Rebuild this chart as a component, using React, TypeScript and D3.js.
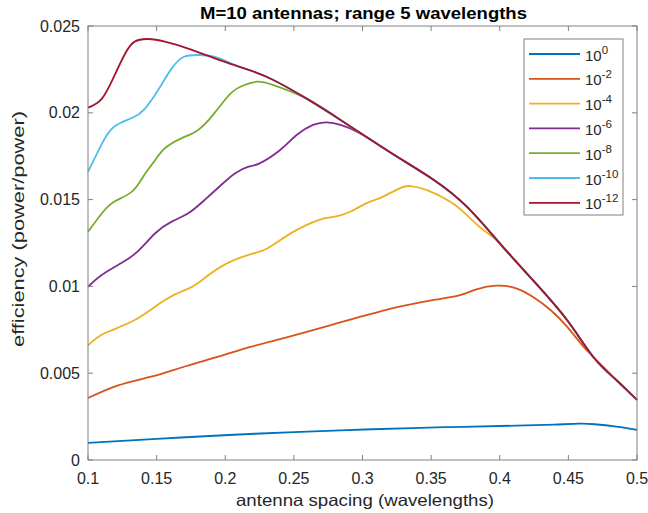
import React, { useEffect, useRef } from 'react';
import * as d3 from 'd3';

// Legend labels (exponent of 10) and MATLAB default colours
const exponents = ['0', '-2', '-4', '-6', '-8', '-10', '-12'];
const colors = ['#0072BD', '#D95319', '#EDB120', '#7E2F8E', '#77AC30', '#4DBEEE', '#A2142F'];

const xTicks = [0.1, 0.15, 0.2, 0.25, 0.3, 0.35, 0.4, 0.45, 0.5];
const yTicks = [0, 0.005, 0.01, 0.015, 0.02, 0.025];

// 10^-12 curve, which the other curves join once they peak
const envelope = [
  [0.1, 0.0203], [0.11, 0.0208], [0.119, 0.0221], [0.127, 0.0234], [0.134, 0.0241],
  [0.144, 0.02425], [0.156, 0.0241], [0.173, 0.0237], [0.197, 0.023], [0.217, 0.02247],
  [0.235, 0.02189], [0.259, 0.02083], [0.284, 0.01959], [0.308, 0.01834], [0.327, 0.01738],
  [0.352, 0.01613], [0.376, 0.01459], [0.4, 0.01248], [0.424, 0.01037], [0.449, 0.00806],
  [0.468, 0.00595], [0.485, 0.0046], [0.5, 0.00346],
];

const s0 = [
  [0.1, 0.00099], [0.15, 0.00122], [0.2025, 0.00144], [0.25, 0.00161], [0.307, 0.00177],
  [0.36, 0.00189], [0.412, 0.00198], [0.44, 0.00204], [0.458, 0.00209], [0.469, 0.00206],
  [0.485, 0.00192], [0.5, 0.00173],
];

const s2 = [
  [0.1, 0.00357], [0.122, 0.0043], [0.146, 0.0048], [0.171, 0.0054], [0.195, 0.00595],
  [0.219, 0.00653], [0.244, 0.00705], [0.273, 0.00768], [0.298, 0.00825], [0.315, 0.0086],
  [0.327, 0.00883], [0.352, 0.00922], [0.371, 0.0095], [0.383, 0.00983], [0.398, 0.01004],
  [0.412, 0.00989], [0.424, 0.0094], [0.437, 0.00864], [0.449, 0.00768], [0.461, 0.00653],
  [0.47, 0.0058],
];

const s4 = [
  [0.1, 0.0066], [0.112, 0.0073], [0.134, 0.00806], [0.156, 0.00922], [0.171, 0.0098],
  [0.18, 0.01018], [0.197, 0.01114], [0.217, 0.01181], [0.231, 0.0122], [0.248, 0.01307],
  [0.268, 0.01382], [0.279, 0.014], [0.291, 0.0143], [0.303, 0.0148], [0.313, 0.0151],
  [0.327, 0.01565], [0.335, 0.01578], [0.347, 0.01555], [0.364, 0.01488], [0.376, 0.01411],
  [0.388, 0.01325],
];

const s6 = [
  [0.1, 0.00998], [0.11, 0.01066], [0.124, 0.01133], [0.136, 0.012], [0.149, 0.01306],
  [0.161, 0.01373], [0.173, 0.01421], [0.185, 0.01498], [0.197, 0.01584], [0.207, 0.01651],
  [0.217, 0.0169], [0.225, 0.01709], [0.24, 0.01786], [0.252, 0.01872], [0.264, 0.0193],
  [0.274, 0.01945], [0.284, 0.0193], [0.296, 0.01891],
];

const s8 = [
  [0.1, 0.01315], [0.11, 0.0142], [0.119, 0.01488], [0.132, 0.01546], [0.141, 0.01642],
  [0.149, 0.01728], [0.156, 0.01796], [0.168, 0.01853], [0.18, 0.019], [0.192, 0.01997],
  [0.204, 0.02112], [0.214, 0.0216], [0.223, 0.02179], [0.235, 0.0216],
];

const s10 = [
  [0.1, 0.0166], [0.11, 0.0182], [0.119, 0.0192], [0.132, 0.0197], [0.141, 0.0202],
  [0.151, 0.0213], [0.161, 0.02256], [0.17, 0.02323], [0.18, 0.02333], [0.192, 0.02323],
  [0.207, 0.02275],
];

// each curve = its own points, then the shared envelope after its last point
const withEnvelope = (pts) => {
  const last = pts[pts.length - 1][0];
  return pts.concat(envelope.filter((p) => p[0] > last + 0.005));
};

const seriesData = [s0, withEnvelope(s2), withEnvelope(s4), withEnvelope(s6), withEnvelope(s8), withEnvelope(s10), envelope];

function App() {
  const ref = useRef(null);

  useEffect(() => {
    const width = 648;
    const height = 513;
    const margin = { top: 26, right: 11, bottom: 53, left: 88 };
    const font = '"Liberation Sans", Arial, Helvetica, sans-serif';
    const textColor = '#262626';
    const axisColor = '#808080';

    const svg = d3.select(ref.current);
    svg.selectAll('*').remove();

    const x0 = margin.left;
    const x1 = width - margin.right;
    const y0 = height - margin.bottom;
    const y1 = margin.top;

    const x = d3.scaleLinear().domain([0.1, 0.5]).range([x0, x1]);
    const y = d3.scaleLinear().domain([0, 0.025]).range([y0, y1]);

    svg.append('rect').attr('width', width).attr('height', height).attr('fill', '#fff');

    // Curves
    const line = d3.line()
      .x((d) => x(d[0]))
      .y((d) => y(d[1]))
      .curve(d3.curveNatural);

    const plot = svg.append('g');
    seriesData.forEach((pts, i) => {
      plot.append('path')
        .datum(pts)
        .attr('d', line)
        .attr('fill', 'none')
        .attr('stroke', colors[i])
        .attr('stroke-width', 1.8);
    });

    // Box with inward ticks (MATLAB style)
    const box = svg.append('g');
    box.append('rect')
      .attr('x', x0).attr('y', y1)
      .attr('width', x1 - x0).attr('height', y0 - y1)
      .attr('fill', 'none').attr('stroke', axisColor).attr('stroke-width', 1);

    const tickLen = 5;
    xTicks.forEach((t) => {
      box.append('line').attr('x1', x(t)).attr('x2', x(t)).attr('y1', y0).attr('y2', y0 - tickLen)
        .attr('stroke', axisColor);
      box.append('line').attr('x1', x(t)).attr('x2', x(t)).attr('y1', y1).attr('y2', y1 + tickLen)
        .attr('stroke', axisColor);
      box.append('text')
        .attr('x', x(t)).attr('y', y0 + 24)
        .attr('text-anchor', 'middle')
        .attr('font-family', font).attr('font-size', 16).attr('fill', textColor)
        .text(String(t));
    });
    yTicks.forEach((t) => {
      box.append('line').attr('x1', x0).attr('x2', x0 + tickLen).attr('y1', y(t)).attr('y2', y(t))
        .attr('stroke', axisColor);
      box.append('line').attr('x1', x1).attr('x2', x1 - tickLen).attr('y1', y(t)).attr('y2', y(t))
        .attr('stroke', axisColor);
      box.append('text')
        .attr('x', x0 - 8).attr('y', y(t) + 5.5)
        .attr('text-anchor', 'end')
        .attr('font-family', font).attr('font-size', 16).attr('fill', textColor)
        .text(String(t));
    });

    // Titles
    svg.append('text')
      .attr('x', 200).attr('y', 19)
      .attr('textLength', 327).attr('lengthAdjust', 'spacingAndGlyphs')
      .attr('font-family', font).attr('font-size', 17).attr('font-weight', 'bold').attr('fill', '#000')
      .text('M=10 antennas; range 5 wavelengths');

    svg.append('text')
      .attr('x', 236).attr('y', 506)
      .attr('textLength', 258).attr('lengthAdjust', 'spacingAndGlyphs')
      .attr('font-family', font).attr('font-size', 16.5).attr('fill', textColor)
      .text('antenna spacing (wavelengths)');

    svg.append('text')
      .attr('transform', `translate(24,${(y0 + y1) / 2 - 14}) rotate(-90)`)
      .attr('x', -118)
      .attr('textLength', 236).attr('lengthAdjust', 'spacingAndGlyphs')
      .attr('font-family', font).attr('font-size', 16.5).attr('fill', textColor)
      .text('efficiency (power/power)');

    // Legend
    const legend = svg.append('g');
    legend.append('rect')
      .attr('x', 524).attr('y', 39).attr('width', 99).attr('height', 176)
      .attr('fill', '#fff').attr('stroke', axisColor).attr('stroke-width', 1);

    exponents.forEach((e, i) => {
      const ly = 54 + i * 24.8;
      legend.append('line')
        .attr('x1', 529).attr('x2', 580).attr('y1', ly).attr('y2', ly)
        .attr('stroke', colors[i]).attr('stroke-width', 1.8);
      const txt = legend.append('text')
        .attr('x', 585).attr('y', ly + 6.5)
        .attr('font-family', font).attr('font-size', 15).attr('fill', textColor);
      txt.append('tspan').text('10');
      txt.append('tspan').attr('dy', -7).attr('font-size', 11.5).text(e);
    });
  }, []);

  return (
    <svg
      ref={ref}
      width={648}
      height={513}
      style={{ position: 'absolute', left: 0, top: 0, display: 'block' }}
    />
  );
}

export default App;
